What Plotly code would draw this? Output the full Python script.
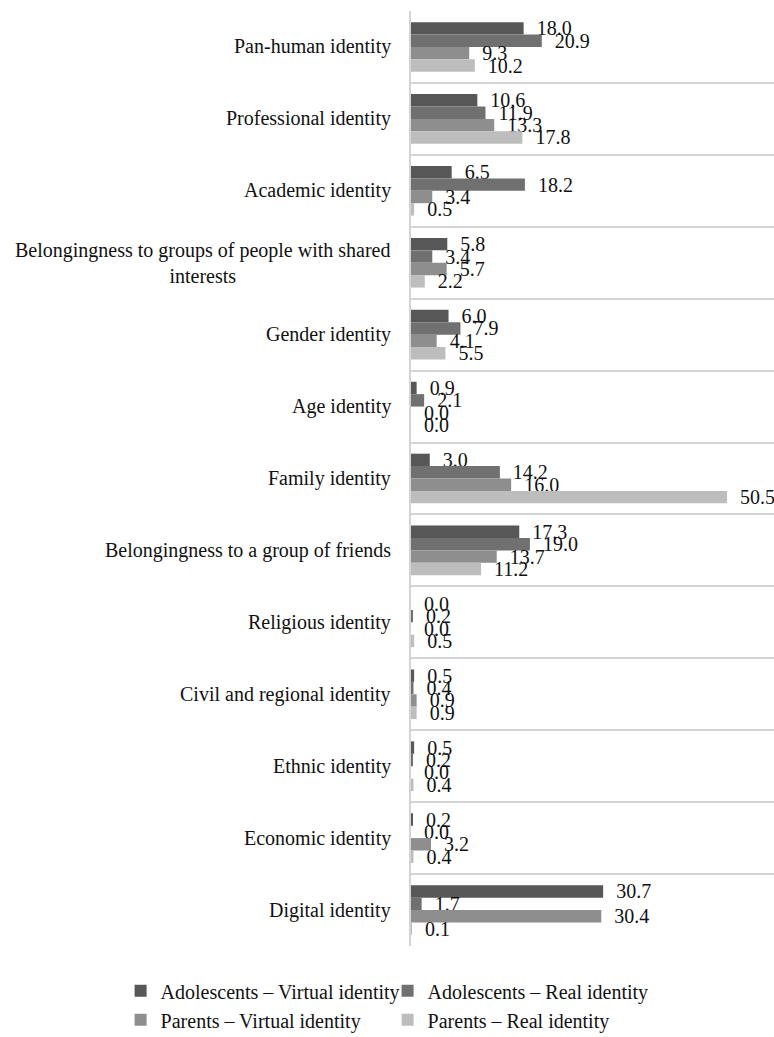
import plotly.graph_objects as go

# Identity categories (top to bottom)
categories = [
    "Pan-human identity",
    "Professional identity",
    "Academic identity",
    "Belongingness to groups of people with shared<br>interests",
    "Gender identity",
    "Age identity",
    "Family identity",
    "Belongingness to a group of friends",
    "Religious identity",
    "Civil and regional identity",
    "Ethnic identity",
    "Economic identity",
    "Digital identity",
]

series_names = [
    "Adolescents \u2013 Virtual identity",
    "Adolescents \u2013 Real identity",
    "Parents \u2013 Virtual identity",
    "Parents \u2013 Real identity",
]

adolescents_virtual = [18.0, 10.6, 6.5, 5.8, 6.0, 0.9, 3.0, 17.3, 0.0, 0.5, 0.5, 0.2, 30.7]
adolescents_real = [20.9, 11.9, 18.2, 3.4, 7.9, 2.1, 14.2, 19.0, 0.2, 0.4, 0.2, 0.0, 1.7]
parents_virtual = [9.3, 13.3, 3.4, 5.7, 4.1, 0.0, 16.0, 13.7, 0.0, 0.9, 0.0, 3.2, 30.4]
parents_real = [10.2, 17.8, 0.5, 2.2, 5.5, 0.0, 50.5, 11.2, 0.5, 0.9, 0.4, 0.4, 0.1]

series_values = [adolescents_virtual, adolescents_real, parents_virtual, parents_real]
series_colors = ["#575757", "#707070", "#8e8e8e", "#bdbdbd"]

FONT = "Liberation Serif, Times New Roman, serif"

fig = go.Figure()
for name, vals, color in zip(series_names, series_values, series_colors):
    fig.add_trace(go.Bar(
        name=name,
        y=categories,
        x=vals,
        orientation="h",
        marker=dict(color=color, line=dict(width=0)),
        texttemplate="\u2002%{x:.1f}",
        textposition="outside",
        textangle=0,
        constraintext="none",
        cliponaxis=False,
        textfont=dict(family=FONT, size=20, color="#111111"),
    ))

# Category labels, centred text blocks right-aligned against the axis
for cat in categories:
    fig.add_annotation(
        x=0, xref="paper", xanchor="right", xshift=-18,
        y=cat, yref="y", yanchor="middle",
        text=cat, showarrow=False, align="center",
        font=dict(family=FONT, size=20, color="#111111"),
    )

fig.update_layout(
    width=774, height=1037,
    margin=dict(l=411, r=0, t=11, b=91, autoexpand=False),
    paper_bgcolor="white", plot_bgcolor="white",
    barmode="group", bargap=0.31, bargroupgap=0,
    font=dict(family=FONT, size=20, color="#111111"),
    showlegend=True,
    legend=dict(
        orientation="h",
        x=-0.80, xanchor="left",
        y=-0.027, yanchor="top",
        entrywidth=222,
        itemwidth=30,
        traceorder="normal",
        font=dict(family=FONT, size=20, color="#111111"),
    ),
)

fig.update_xaxes(
    range=[0, 58], showgrid=False, zeroline=False,
    showticklabels=False, ticks="", showline=False,
)
fig.update_yaxes(
    categoryorder="array", categoryarray=categories,
    autorange="reversed",
    tickson="boundaries", showgrid=True, gridcolor="#d4d4d4", gridwidth=2,
    showticklabels=False, ticks="",
    showline=True, linecolor="#d4d4d4", linewidth=2, mirror=False,
    zeroline=False,
)

fig.write_html("out.html")
